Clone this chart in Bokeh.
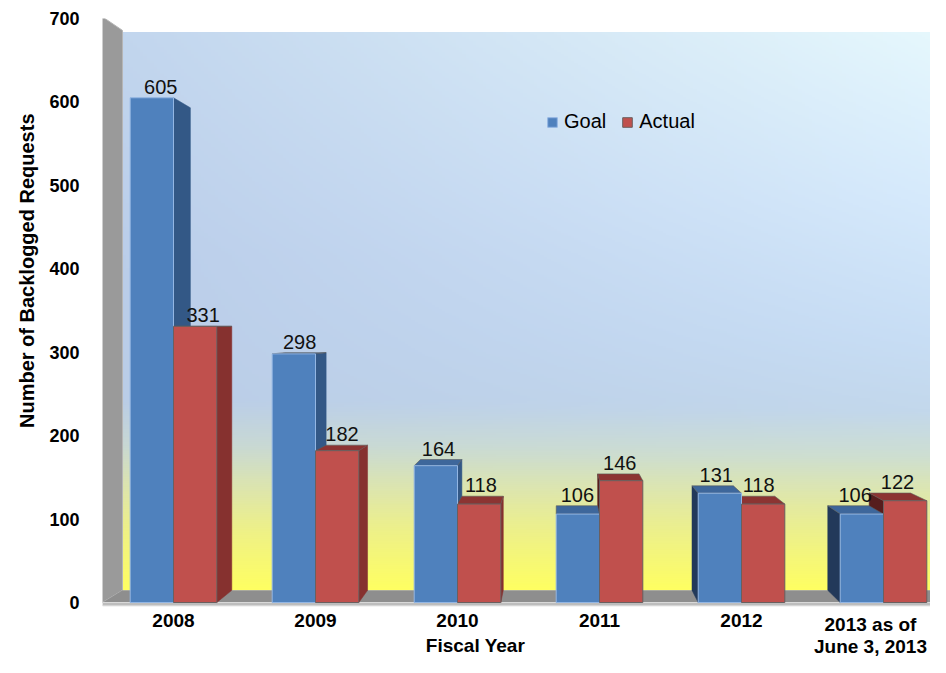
import numpy as np
from bokeh.plotting import figure
from bokeh.models import (Range1d, FixedTicker, Legend, LegendItem, Title,
                          ColumnDataSource)
from bokeh.embed import file_html
from bokeh.resources import INLINE
from bokeh.core.properties import value

# ---------------- data ----------------
years = ["2008", "2009", "2010", "2011", "2012", "2013 as of\nJune 3, 2013"]
goal = [605, 298, 164, 106, 131, 106]
actual = [331, 182, 118, 146, 118, 122]
series_names = ["Goal", "Actual"]
y_ticks = [0, 100, 200, 300, 400, 500, 600, 700]
x_title = "Fiscal Year"
y_title = "Number of Backlogged Requests"

# ---------------- style / geometry ----------------
FONT = "Liberation Sans"
BLUE, RED = "#4f81bd", "#c0504d"
BLUE_R, RED_R = "#335886", "#86312f"      # right side faces
BLUE_L, RED_L = "#22395a", "#561d1d"      # left side faces
BLUE_T, RED_T = "#3e679b", "#8c3432"      # top faces
BW = 0.305                                # bar width (category units)
VX, VY, S = 3.204, 331.7, 0.956           # perspective vanishing point / depth scale
WIDTH, HEIGHT = 930, 657
LEFT, TOP = 102, 18
PX_X = 142.0                              # pixels per category
XMAX = (WIDTH - LEFT) / PX_X
PX_Y = (602 - 18) / 700.0                 # pixels per request
YMAX = 700
YMIN = -(HEIGHT - TOP - YMAX * PX_Y) / PX_Y


def back(x, y):
    return VX + S * (x - VX), VY + S * (y - VY)


p = figure(width=WIDTH, height=HEIGHT, output_backend="svg", toolbar_location=None,
           x_range=Range1d(0, XMAX), y_range=Range1d(YMIN, YMAX),
           min_border_left=LEFT, min_border_right=0, min_border_top=TOP,
           min_border_bottom=0, background_fill_color="white",
           border_fill_color="white", outline_line_color=None)
p.grid.visible = False
p.xaxis.visible = False

# ---------------- back wall gradient ----------------
left_stops = [(0.0, (194, 214, 238)), (0.40, (187, 206, 234)), (0.66, (186, 205, 231)),
              (0.74, (200, 216, 212)), (0.82, (222, 230, 172)), (0.90, (240, 242, 132)),
              (1.0, (255, 255, 98))]
right_stops = [(0.0, (230, 248, 253)), (0.30, (214, 234, 252)), (0.55, (200, 222, 245)),
               (0.68, (195, 216, 236)), (0.76, (206, 223, 210)), (0.85, (228, 234, 162)),
               (1.0, (255, 255, 98))]


def interp(stops, t):
    ts = np.array([s[0] for s in stops])
    cs = np.array([s[1] for s in stops], float)
    return np.stack([np.interp(t, ts, cs[:, k]) for k in range(3)], axis=-1)


H, W = 300, 240
t = np.linspace(1, 0, H)
u = np.linspace(0, 1, W)
lc, rc = interp(left_stops, t), interp(right_stops, t)
rgb = lc[:, None, :] * (1 - u[None, :, None]) + rc[:, None, :] * u[None, :, None]
img = np.zeros((H, W, 4), dtype=np.uint8)
img[..., :3] = rgb.astype(np.uint8)
img[..., 3] = 255
bx0, by0 = back(0, 0)
bx1, by1 = back(6, YMAX)
p.image_rgba(image=[img.view(np.uint32).reshape(H, W)], x=bx0, y=by0,
             dw=bx1 - bx0, dh=by1 - by0)

# left wall
lx0, ly0 = back(0, 0)
lx1, ly1 = back(0, YMAX + 2)
p.patch([0, 0, lx1, lx0], [0, YMAX + 2, ly1, ly0], fill_color="#9a9a9a",
        line_color="#b5b5b5", line_width=1)
# floor
fx6, fy6 = back(6, 0)
p.patch([0, 6, fx6, lx0], [0, 0, fy6, ly0], fill_color="#8e8e8e", line_color=None)
p.quad(left=0, right=6, bottom=-4, top=0, fill_color="#bdbdbd", line_color="#d9d9d9")

# ---------------- 3D bars ----------------
cx = np.arange(len(years)) + 0.5
bars = []
for i in range(len(years)):
    bars.append((cx[i] - BW, cx[i], goal[i], BLUE_R, BLUE_L, BLUE_T))
    bars.append((cx[i], cx[i] + BW, actual[i], RED_R, RED_L, RED_T))

side = dict(xs=[], ys=[], c=[])
top = dict(xs=[], ys=[], c=[])
for x0, x1, h, cr, cl, ct in bars:
    if x1 <= VX:
        bx, bh = back(x1, h)
        _, b0 = back(x1, 0)
        side["xs"].append([x1, x1, bx, bx]); side["ys"].append([0, h, bh, b0]); side["c"].append(cr)
    elif x0 >= VX:
        bx, bh = back(x0, h)
        _, b0 = back(x0, 0)
        side["xs"].append([x0, x0, bx, bx]); side["ys"].append([0, h, bh, b0]); side["c"].append(cl)
    if h < VY:
        a, ah = back(x0, h)
        b, _ = back(x1, h)
        top["xs"].append([x0, x1, b, a]); top["ys"].append([h, h, ah, ah]); top["c"].append(ct)

p.patches("xs", "ys", source=ColumnDataSource(side), fill_color="c", line_color="c",
          line_width=0.5)
p.patches("xs", "ys", source=ColumnDataSource(top), fill_color="c", line_color="#5a5a5a",
          line_width=0.6)

r_goal = p.vbar(x=cx - BW / 2, top=goal, width=BW, bottom=0, fill_color=BLUE,
                line_color="#93b6e3", line_width=1)
r_act = p.vbar(x=cx + BW / 2, top=actual, width=BW, bottom=0, fill_color=RED,
               line_color="#6a5f5f", line_width=1)

# ---------------- value labels ----------------
def label_pos(xc, h):
    bxc, bh = back(xc, h)
    return (xc + bxc) / 2, max(h, bh)

lab_x, lab_y, lab_t = [], [], []
for i in range(len(years)):
    for xc, h in ((cx[i] - BW / 2, goal[i]), (cx[i] + BW / 2, actual[i])):
        lx, ly = label_pos(xc, h)
        lab_x.append(lx); lab_y.append(ly); lab_t.append(str(h))
p.text(x=lab_x, y=lab_y, text=lab_t, text_align="center", text_baseline="bottom",
       y_offset=-4, text_font=value(FONT), text_font_size="20px", text_color="#111111")

# ---------------- category labels (below the floor) ----------------
CAT_FS = 19
x_shift = []
for c, lab in zip(cx, years):
    w = max(len(s) for s in lab.split("\n")) * 0.5 * CAT_FS
    over = LEFT + c * PX_X + w / 2 - (WIDTH - 3)
    x_shift.append(-max(0.0, over))
p.text(x=cx, y=[-(613 - 602) / PX_Y] * len(cx), text=years, x_offset=x_shift,
       text_align="center", text_baseline="top", text_line_height=1.05,
       text_font=value(FONT), text_font_style="bold", text_font_size=f"{CAT_FS}px",
       text_color="#000000")
p.text(x=[(475 - LEFT) / PX_X], y=[-(645 - 602) / PX_Y], text=[x_title],
       text_align="center", text_baseline="middle", text_font=value(FONT),
       text_font_style="bold", text_font_size="19px", text_color="#000000")

# ---------------- y axis ----------------
ya = p.yaxis[0]
ya.ticker = FixedTicker(ticks=y_ticks)
ya.axis_line_color = None
ya.major_tick_line_color = None
ya.minor_tick_line_color = None
ya.major_label_standoff = 17
ya.major_label_text_font = FONT
ya.major_label_text_font_style = "bold"
ya.major_label_text_font_size = "18px"
ya.major_label_text_color = "#000000"

p.add_layout(Title(text=y_title, align="right", offset=95, standoff=18,
                   text_font=FONT, text_font_style="bold", text_font_size="20px",
                   text_color="#000000"), "left")

# ---------------- legend ----------------
legend = Legend(items=[LegendItem(label=series_names[0], renderers=[r_goal]),
                       LegendItem(label=series_names[1], renderers=[r_act])],
                orientation="horizontal", location=(444, 657 - 133),
                background_fill_alpha=0, border_line_color=None,
                glyph_width=12, glyph_height=12, label_standoff=6, spacing=15,
                padding=2, margin=0, label_text_font=FONT,
                label_text_font_size="20px", label_text_color="#000000")
p.add_layout(legend)

open("out.html", "w").write(file_html(p, INLINE))
